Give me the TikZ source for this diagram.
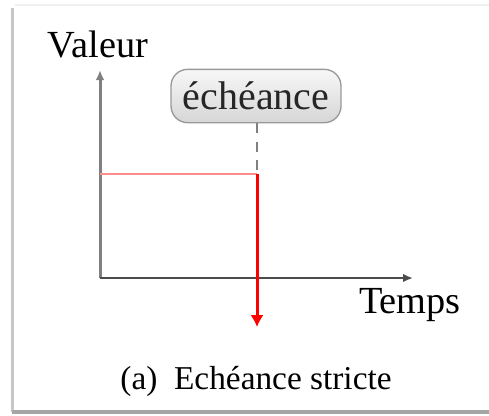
\documentclass[tikz,border=0pt]{standalone}
\usepackage{fontspec}
\setmainfont{Liberation Serif}
\usetikzlibrary{arrows.meta,positioning}

\begin{document}
\begin{tikzpicture}[
  x=0.3pt,y=-0.3pt,
  axis/.style={-{Latex[length=3pt,width=2.6pt]}},
  deadline/.style={draw=gray!80,rounded corners=5pt,minimum width=51pt,
                   minimum height=16pt,top color=gray!6,bottom color=gray!32,
                   font=\fontsize{12}{14}\selectfont,text=black!85},
  lbl/.style={font=\fontsize{11.5}{13}\selectfont},
  value/.style={red!45,line width=0.6pt},
  drop/.style={red,line width=0.9pt,-{Latex[length=3.6pt,width=4pt]}}
]
\useasboundingbox (0,0) rectangle (489,415);
% frame
\draw[gray!12,line width=0.6pt] (15,5) -- (489,5);
\draw[gray!45,line width=0.9pt] (12,8) -- (12,412);
\draw[gray!70,line width=1pt] (12,412) -- (489,412);

% axes
\coordinate (origin) at (100,278);
\coordinate (ytip) at (100,70);
\coordinate (xtip) at (413,278);
\draw[axis,gray,line width=0.9pt] (origin) -- (ytip);
\draw[axis,black!70,line width=0.6pt] (origin) -- (xtip);
\node[lbl] (valeur) at (98,44) {Valeur};
\node[lbl] (temps) at (410,305) {Temps};

% deadline
\node[deadline] (echeance) at (256,96) {échéance};
\coordinate (start) at (100,174);
\coordinate (corner) at (257,174);
\coordinate (bottom) at (257,327);
\draw[gray,line width=0.6pt,dash pattern=on 3pt off 2.5pt]
  (echeance.south -| corner) -- ([yshift=-2pt]corner);
\draw[value] (start) -- (corner);
\draw[drop] (corner) -- (bottom);

% caption
\node[font=\fontsize{10}{12}\selectfont] (caption) at (256,381)
  {(a)\hspace{0.5em}Echéance stricte};
\end{tikzpicture}
\end{document}
